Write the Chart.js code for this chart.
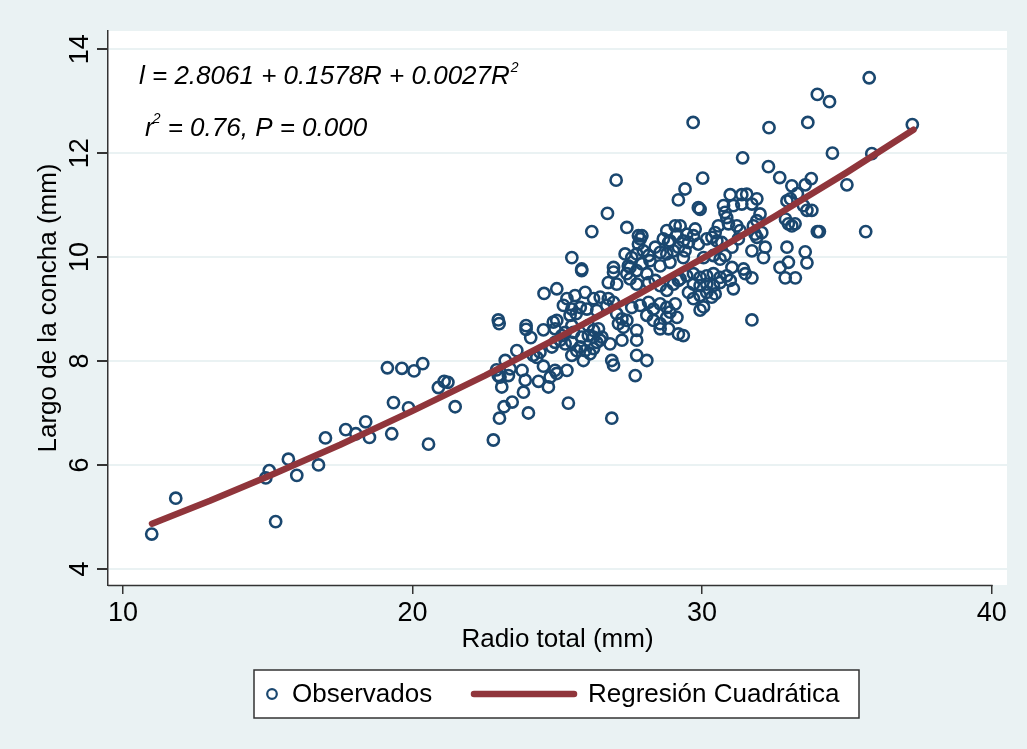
<!DOCTYPE html>
<html>
<head>
<meta charset="utf-8">
<script src="https://cdn.jsdelivr.net/npm/chart.js@4.4.1/dist/chart.umd.min.js"></script>
<style>
  html, body { margin: 0; padding: 0; background: #eaf2f3; }
  canvas { display: block; }
</style>
</head>
<body>
<canvas id="grafico" width="1027" height="749"></canvas>
<script>
// Radio total (mm) y largo de la concha (mm) de cada ejemplar observado
const radio = [
  10.99, 11.82, 15.27, 14.93, 15.05, 15.71, 16.00, 16.75, 16.99, 17.69, 18.04, 18.38, 18.51, 19.13, 19.63, 20.05, 20.35, 19.34, 19.28, 19.86, 20.55, 20.89,
  21.09, 21.22, 21.47, 22.79, 22.96, 22.99, 23.20, 22.90, 22.96, 23.02, 23.08, 23.31, 23.37, 23.60, 23.78, 23.89, 23.83, 24.00, 23.44, 23.16, 23.00,
  23.92, 23.92, 24.08, 24.52, 24.29, 24.40, 24.52, 24.35, 24.75, 24.69, 24.92, 24.98, 24.54, 24.98, 24.86, 24.98, 24.92, 24.81, 24.92, 24.17,
  27.03, 26.73, 26.19, 27.40, 25.50, 25.84, 26.94, 27.80, 27.92, 27.86, 29.18, 28.78, 29.07, 29.13, 28.89, 28.66, 27.34, 27.57, 27.74, 27.97,
  28.15, 28.38, 28.55, 28.78, 29.01, 29.18, 27.45, 27.92, 28.20, 28.55, 28.89, 27.80, 28.84, 27.51,
  25.84, 26.94, 27.40, 27.74, 28.09, 26.76, 27.05, 27.51, 27.74, 28.15, 28.38, 28.55, 28.78, 29.01, 29.18, 25.33, 25.61, 25.96, 26.25, 26.48,
  26.76, 25.21, 25.50, 25.44, 25.79, 26.02, 26.36, 26.71, 26.94, 27.57, 27.86, 28.15, 28.32, 28.55, 28.78, 28.89, 29.07, 28.09, 28.32, 28.55,
  28.78, 29.13, 27.05, 27.23, 27.11, 27.28, 27.40, 26.07, 26.25, 26.42, 26.07, 26.25, 26.54, 25.84, 25.79, 25.96, 26.13, 26.25, 26.36, 25.67,
  25.50, 25.27, 26.82, 27.23, 27.74, 27.74, 28.55, 28.84, 29.18, 27.74, 28.09, 26.88, 26.94, 25.90, 25.10, 25.15, 25.27, 25.50, 25.56, 25.65,
  25.33, 25.38, 26.88, 27.69, 26.48, 25.50,
  30.02, 29.41, 29.87, 29.93, 30.97, 31.37, 31.54, 31.89, 31.72, 31.37, 31.08, 30.74, 30.79, 30.85, 30.91, 31.20, 32.00, 31.89, 31.77, 31.83,
  32.06, 31.89, 32.68, 33.10, 33.05, 32.93, 32.88, 32.98, 33.10, 33.21, 30.56, 30.45, 30.34, 30.16, 30.51, 29.76, 29.70, 29.47, 29.35, 29.24,
  29.53, 29.87, 31.31, 31.25, 31.03, 30.68, 30.79, 30.62, 30.39, 30.05, 31.72, 32.18, 32.12, 32.93, 32.98, 32.69, 31.43, 31.03, 29.35, 29.41,
  31.40, 32.29, 32.31, 33.29, 29.69,
  29.24, 29.47, 29.70, 29.93, 30.16, 30.39, 30.62, 30.85, 30.97, 31.08, 29.70, 29.93, 30.16, 30.39, 30.62, 29.53, 29.70, 29.93, 30.16, 30.33,
  30.45, 29.93, 31.49, 31.72, 32.87, 33.22, 31.72, 29.35, 30.05,
  35.77, 33.98, 34.40, 33.65, 37.26, 35.86, 34.50, 35.00, 33.77, 33.56, 33.50, 33.62, 33.79, 33.98, 34.05, 35.65, 33.56, 33.62
];
const largo = [
  4.67, 5.36, 4.91, 5.75, 5.89, 6.11, 5.80, 6.00, 6.52, 6.68, 6.60, 6.83, 6.53, 7.87, 7.86, 7.81, 7.95, 7.20, 6.60, 7.10, 6.40, 7.49,
  7.61, 7.59, 7.12, 6.48, 8.79, 8.72, 8.01, 7.83, 7.72, 7.69, 7.50, 7.72, 7.85, 8.20, 7.82, 7.63, 7.40, 7.00, 7.21, 7.12, 6.90,
  8.68, 8.61, 8.45, 8.60, 8.07, 8.17, 7.90, 7.61, 7.69, 7.50, 7.82, 7.76, 9.30, 9.39, 8.75, 8.78, 8.62, 8.27, 8.36, 8.11,
  11.48, 10.84, 10.49, 10.57, 9.99, 9.77, 9.80, 10.41, 10.41, 10.35, 11.10, 10.51, 10.60, 10.44, 10.31, 10.35, 10.06, 9.99, 10.06, 10.12,
  10.03, 10.19, 10.09, 10.06, 10.12, 10.19, 9.83, 9.87, 9.93, 9.83, 9.90, 10.25, 10.28, 9.80,
  9.74, 9.71, 9.68, 9.74, 9.68, 9.51, 9.48, 9.58, 9.48, 9.51, 9.55, 9.45, 9.36, 9.48, 9.55, 9.20, 9.26, 9.32, 9.20, 9.23,
  9.20, 9.07, 9.00, 8.88, 9.03, 9.00, 8.97, 9.07, 9.13, 9.03, 9.07, 9.13, 9.00, 9.10, 9.03, 8.94, 9.10, 8.88, 8.78, 8.72,
  8.84, 8.84, 8.91, 8.81, 8.72, 8.65, 8.78, 8.68, 8.59, 8.62, 8.49, 8.46, 8.46, 8.46, 8.27, 8.20, 8.14, 8.24, 8.36, 8.20,
  8.36, 8.33, 8.33, 8.40, 8.59, 8.40, 8.62, 8.62, 8.52, 8.11, 8.01, 8.01, 7.92, 8.01, 8.40, 8.49, 8.55, 8.68, 8.55, 8.91,
  7.82, 7.19, 6.90, 7.72, 8.40, 8.11,
  11.52, 11.31, 10.95, 10.92, 11.20, 11.20, 11.21, 11.12, 11.02, 11.02, 10.99, 10.99, 10.86, 10.76, 10.64, 10.60, 10.83, 10.70, 10.60, 10.44,
  10.47, 10.38, 11.53, 11.37, 11.12, 11.08, 10.73, 10.64, 10.60, 10.64, 10.60, 10.47, 10.38, 10.35, 10.31, 10.54, 10.41, 10.44, 10.31, 10.60,
  10.28, 10.25, 10.51, 10.35, 10.19, 10.28, 10.03, 9.96, 10.03, 9.99, 10.12, 10.19, 9.99, 10.19, 9.90, 9.80, 9.77, 9.80, 9.99, 10.12,
  11.91, 11.74, 12.49, 11.22, 12.59,
  9.58, 9.64, 9.68, 9.61, 9.64, 9.68, 9.61, 9.64, 9.55, 9.39, 9.48, 9.45, 9.48, 9.45, 9.51, 9.32, 9.20, 9.26, 9.32, 9.23,
  9.29, 8.98, 9.68, 9.60, 9.60, 9.60, 8.79, 8.49, 9.04,
  13.45, 13.13, 12.99, 12.59, 12.55, 11.99, 12.00, 11.39, 11.51, 11.39, 10.99, 10.90, 10.90, 10.49, 10.49, 10.49, 10.10, 9.89
];

// Curva de regresión cuadrática
const ajusteRadio = [11.0, 13.0, 15.0, 17.5, 20.0, 22.5, 25.0, 27.5, 30.0, 32.5, 35.0, 37.3];
const ajusteLargo = [4.87, 5.31, 5.78, 6.39, 7.04, 7.72, 8.44, 9.19, 9.97, 10.78, 11.63, 12.45];

const ticksX = [10, 20, 30, 40];
const ticksY = [4, 6, 8, 10, 12, 14];
const etiquetas = ['Observados', 'Regresión Cuadrática'];
const ecuacion = 'l = 2.8061 + 0.1578R + 0.0027R';
const ajusteTexto = ' = 0.76, P = 0.000';

const AZUL = '#1a476f';
const GRANATE = '#90353b';
const FUENTE = '"Liberation Sans", Arial, sans-serif';

const puntos = radio.map((r, i) => ({ x: r, y: largo[i] }));
const curva = ajusteRadio.map((r, i) => ({ x: r, y: ajusteLargo[i] }));

const extras = {
  id: 'extras',
  beforeDraw(chart) {
    const { ctx, chartArea: a } = chart;
    ctx.save();
    ctx.fillStyle = '#eaf2f3';
    ctx.fillRect(0, 0, chart.width, chart.height);
    ctx.fillStyle = '#ffffff';
    ctx.fillRect(a.left, a.top, a.right - a.left, a.bottom - a.top);
    ctx.restore();
  },
  afterDraw(chart) {
    const { ctx, chartArea: a, scales } = chart;
    ctx.save();

    // eje x (termina en el último tick)
    ctx.strokeStyle = '#333';
    ctx.lineWidth = 1.5;
    ctx.beginPath();
    ctx.moveTo(a.left, a.bottom + 0.5);
    ctx.lineTo(scales.x.getPixelForValue(ticksX[ticksX.length - 1]) + 1, a.bottom + 0.5);
    ctx.stroke();

    // etiquetas del eje y, giradas
    ctx.fillStyle = '#000';
    ctx.font = '27px ' + FUENTE;
    ctx.textAlign = 'center';
    ctx.textBaseline = 'alphabetic';
    scales.y.ticks.forEach(t => {
      const y = scales.y.getPixelForValue(t.value);
      ctx.save();
      ctx.translate(88, y);
      ctx.rotate(-Math.PI / 2);
      ctx.fillText(String(t.value), 0, 0);
      ctx.restore();
    });

    // ecuación
    ctx.textAlign = 'left';
    ctx.font = 'italic 26px ' + FUENTE;
    let x = 139;
    ctx.fillText(ecuacion, x, 84);
    x += ctx.measureText(ecuacion).width;
    ctx.font = 'italic 14px ' + FUENTE;
    ctx.fillText('2', x + 1, 72);

    ctx.font = 'italic 26px ' + FUENTE;
    x = 145;
    ctx.fillText('r', x, 136);
    x += ctx.measureText('r').width - 1;
    ctx.font = 'italic 14px ' + FUENTE;
    ctx.fillText('2', x, 123);
    x += ctx.measureText('2').width;
    ctx.font = 'italic 26px ' + FUENTE;
    ctx.fillText(ajusteTexto, x, 136);

    // leyenda
    ctx.fillStyle = '#fff';
    ctx.fillRect(254, 670, 605, 48);
    ctx.strokeStyle = '#333';
    ctx.lineWidth = 1.5;
    ctx.strokeRect(254, 670, 605, 48);
    const ly = 694;
    ctx.strokeStyle = AZUL;
    ctx.lineWidth = 2.2;
    ctx.beginPath();
    ctx.arc(272, ly, 4.8, 0, Math.PI * 2);
    ctx.stroke();
    ctx.strokeStyle = GRANATE;
    ctx.lineWidth = 6.5;
    ctx.lineCap = 'round';
    ctx.beginPath();
    ctx.moveTo(474, ly);
    ctx.lineTo(574, ly);
    ctx.stroke();
    ctx.fillStyle = '#000';
    ctx.font = '26px ' + FUENTE;
    ctx.textBaseline = 'middle';
    ctx.fillText(etiquetas[0], 292, ly + 1);
    ctx.fillText(etiquetas[1], 588, ly + 1);

    ctx.restore();
  }
};

new Chart(document.getElementById('grafico'), {
  type: 'scatter',
  data: {
    datasets: [
      {
        label: etiquetas[1],
        data: curva,
        showLine: true,
        borderColor: GRANATE,
        borderWidth: 6.5,
        borderCapStyle: 'round',
        borderJoinStyle: 'round',
        tension: 0,
        pointRadius: 0,
        order: 0
      },
      {
        label: etiquetas[0],
        data: puntos,
        pointStyle: 'circle',
        pointRadius: 5.6,
        pointBorderWidth: 2.6,
        pointBorderColor: AZUL,
        pointBackgroundColor: 'rgba(0,0,0,0)',
        order: 1
      }
    ]
  },
  options: {
    responsive: false,
    devicePixelRatio: 1,
    animation: false,
    layout: { padding: { left: 0, right: 20, top: 31, bottom: 89 } },
    plugins: { legend: { display: false }, tooltip: { enabled: false } },
    scales: {
      x: {
        type: 'linear',
        min: 9.48,
        max: 40.53,
        afterBuildTicks: s => { s.ticks = ticksX.map(v => ({ value: v })); },
        afterFit: s => { s.height = 75; },
        grid: { drawOnChartArea: false, drawTicks: true, tickLength: 9, tickColor: '#333', lineWidth: 1.5 },
        border: { display: false },
        ticks: { color: '#000', font: { family: FUENTE, size: 27 }, padding: 3, maxRotation: 0 },
        title: { display: true, text: 'Radio total (mm)', color: '#000', font: { family: FUENTE, size: 26 }, padding: { top: 0, bottom: 5 } }
      },
      y: {
        type: 'linear',
        min: 3.69,
        max: 14.35,
        afterBuildTicks: s => { s.ticks = ticksY.map(v => ({ value: v })); },
        afterFit: s => { s.width = 108; },
        grid: { color: '#eaf2f3', lineWidth: 2, drawTicks: true, tickLength: 11, tickColor: '#333' },
        border: { display: true, color: '#333', width: 1.5 },
        ticks: { display: false },
        title: { display: true, text: 'Largo de la concha (mm)', color: '#000', font: { family: FUENTE, size: 26 }, padding: { top: 33, bottom: 0 } }
      }
    }
  },
  plugins: [extras]
});
</script>
</body>
</html>
